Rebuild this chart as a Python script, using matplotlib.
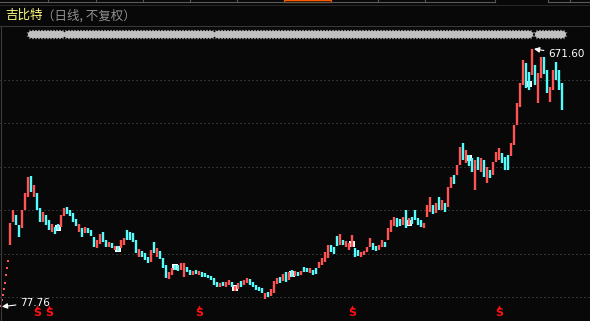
import numpy as np
import matplotlib
matplotlib.use("Agg")
import matplotlib.pyplot as plt

plt.rcParams['font.family'] = ['Noto Sans CJK SC', 'DejaVu Sans']

BG = '#080808'
UP = '#ff5454'
DOWN = '#54fcfc'

# IPO limit-up days (one-price bars, drawn as dots)
limit_up_close = [80, 92, 104, 118, 133, 150, 167, 183]

# daily bars (compressed)
highs = [270, 300, 289, 266, 300, 340, 376, 379, 358, 340,
         305, 296, 289, 277, 268, 261, 268, 289, 305, 307,
         300, 294, 280, 268, 259, 261, 259, 254, 238, 231,
         245, 250, 231, 227, 224, 217, 217, 231, 236, 254,
         250, 247, 231, 211, 206, 201, 192, 208, 227, 213,
         206, 190, 174, 158, 167, 174, 174, 178, 178, 169,
         162, 160, 162, 160, 158, 155, 151, 148, 144, 135,
         132, 135, 135, 139, 135, 125, 132, 137, 139, 144,
         141, 135, 128, 123, 121, 109, 112, 118, 137, 144,
         146, 153, 158, 158, 162, 160, 158, 160, 169, 167,
         167, 162, 167, 181, 190, 204, 220, 220, 215, 241,
         245, 231, 229, 224, 243, 213, 208, 204, 206, 215,
         236, 224, 217, 220, 231, 227, 259, 277, 284, 282,
         280, 284, 300, 282, 284, 300, 282, 277, 270, 312,
         330, 312, 317, 330, 323, 317, 353, 376, 381, 404,
         446, 455, 439, 427, 420, 416, 423, 420, 416, 400,
         393, 411, 434, 443, 432, 423, 427, 455, 496, 547,
         593, 646, 639, 618, 671.6, 635, 616, 653, 653, 623,
         584, 623, 641, 623, 593]
lows = [220, 273, 266, 238, 259, 300, 330, 342, 330, 300,
        273, 273, 266, 254, 250, 245, 254, 261, 287, 291,
        287, 273, 264, 250, 238, 247, 247, 241, 215, 213,
        222, 227, 215, 215, 213, 208, 206, 213, 220, 231,
        231, 227, 201, 192, 192, 185, 178, 181, 201, 192,
        188, 167, 144, 141, 151, 162, 160, 162, 146, 158,
        151, 151, 153, 151, 146, 146, 144, 139, 128, 123,
        123, 125, 123, 128, 123, 114, 118, 123, 128, 132,
        128, 123, 116, 114, 109, 95, 100, 102, 109, 130,
        132, 137, 135, 139, 146, 148, 148, 151, 158, 158,
        155, 151, 153, 167, 174, 181, 190, 204, 199, 218,
        220, 220, 215, 208, 215, 192, 194, 192, 197, 204,
        215, 208, 206, 208, 215, 215, 231, 250, 264, 261,
        264, 266, 259, 266, 268, 277, 266, 261, 259, 284,
        296, 291, 294, 300, 300, 296, 307, 351, 360, 381,
        404, 416, 409, 402, 388, 347, 393, 388, 376, 363,
        374, 381, 411, 416, 409, 393, 393, 425, 450, 496,
        538, 588, 582, 577, 611, 588, 547, 605, 614, 570,
        549, 577, 600, 577, 531]
trend = ("RRCCRRRCRC" "CRCCRCCRRC" "CCCRCRCCCR" "RCCRCRCRRC" "CCCRCCCRCR"
         "CCCRRCCRRC" "CRCRCCCCCC" "RCRRCRRCRR" "CCCCCRCRRR" "CRCRCRCRCC"
         "RCCRRRRCCC" "RCRRRCCRRR" "RCCRRCRRRC" "CRCRCCCCRR" "RCRCRCRRCR"
         "RCRCCRCRCR" "CRRRCCCRRR" "RRCCRCRRCC" "RRCCC")

# white period boxes (bar index, price)
box_idx = [19, 39, 58, 78, 97, 117, 136, 156, 176]
box_price = [260, 211, 168, 120, 153, 222, 270, 420, 590]

# red "S" signals (bar index)
signal_idx = [12, 16, 66, 117, 166]

# gray event strip (bar index ranges)
event_spans = [(10, 18), (19, 20), (22, 25), (26, 36), (37, 38), (39, 70),
               (72, 77), (78, 103), (104, 109), (110, 125), (126, 133),
               (134, 153), (154, 160), (161, 169), (170, 174), (175, 176),
               (179, 183), (184, 187)]

grid_levels = [100, 200, 300, 400, 500, 600]
low_label, high_label = 77.76, 671.60

W, H = 590, 321
fig = plt.figure(figsize=(W / 100, H / 100), dpi=100, facecolor=BG)
ax = fig.add_axes([0, 0, 1, 1], facecolor=BG)
ax.set_xlim(-1 / 3, (W - 1) / 3)
ax.set_ylim(100 + (297 - H) * 2.304, 100 + 297 * 2.304)
ax.axis('off')

def fx(px):
    return px / W

def fy(py):
    return 1 - py / H

for lv in grid_levels:
    ax.axhline(lv, color='#5a5a5a', lw=0.72, ls=(0, (1, 3)), zorder=1)

# candles
pos = np.arange(3, 3 + len(highs))
cols = [UP if t == 'R' else DOWN for t in trend]
ax.vlines(pos, lows, highs, colors=cols, lw=1.7, zorder=3)
lp = np.linspace(-0.1, 2.3, len(limit_up_close))
ax.scatter(lp, limit_up_close, s=1.5, color=UP, marker='s', lw=0, zorder=3)

ax.scatter(box_idx, box_price, s=20, marker='s', color='white', lw=0, zorder=2)

# event strip
ev = [i for a, b in event_spans for i in range(a, b + 1)]
ax.scatter(ev, [706] * len(ev), s=24, marker='o', color='#c0c0c0', lw=0, zorder=3)
ax.scatter(ev, [706] * len(ev), s=60, marker=(8, 1, 22.5), color='#c0c0c0', lw=0, zorder=3)

# signals
for i in signal_idx:
    ax.scatter([i], [76], s=9, marker='^', color='#ff1010', lw=0, zorder=4)
    ax.text(i, 62, 'S', color='#ff1010', fontsize=8, fontweight='bold',
            family='DejaVu Sans', ha='center', va='center', zorder=4)

# low / high labels
ax.annotate(f'{low_label:.2f}', xy=(0.3, low_label), xytext=(19 / 3, low_label + 9),
            color='white', fontsize=7.5, family='DejaVu Sans', ha='left', va='center',
            arrowprops=dict(arrowstyle='-|>', color='white', lw=0.8, mutation_scale=8,
                            shrinkA=1, shrinkB=0))
ax.annotate(f'{high_label:.2f}', xy=(533 / 3, high_label), xytext=(547 / 3, high_label - 12),
            color='white', fontsize=7.5, family='DejaVu Sans', ha='left', va='center',
            arrowprops=dict(arrowstyle='-|>', color='white', lw=0.8, mutation_scale=8,
                            shrinkA=1, shrinkB=0))

# frame pieces
fig.add_artist(plt.Line2D([fx(0.5), fx(0.5)], [fy(26), fy(H)], color='#3a3a3a', lw=0.8))
fig.add_artist(plt.Line2D([0, 1], [fy(26), fy(26)], color='#383838', lw=0.8))
fig.add_artist(plt.Line2D([0, 1], [fy(4.5), fy(4.5)], color='#262626', lw=0.8))
fig.add_artist(plt.Line2D([0, fx(495)], [fy(2), fy(2)], color='#5a5a5a', lw=0.8))
fig.add_artist(plt.Line2D([fx(548), 1], [fy(2), fy(2)], color='#5a5a5a', lw=0.8))
for sx in [48, 96, 143, 190, 237, 378, 425, 495, 548, 570]:
    fig.add_artist(plt.Line2D([fx(sx), fx(sx)], [fy(0), fy(2)], color='#5a5a5a', lw=0.8))
fig.add_artist(plt.Rectangle((fx(284), fy(2.3)), fx(47), fy(0) - fy(2.3), fill=False,
                             edgecolor='#ff5a00', lw=0.9))

fig.text(fx(5), fy(15.5), '吉比特', color='#ffff80', fontsize=9, va='center', ha='left')
fig.text(fx(42), fy(15.5), '（日线, 不复权）', color='#909090', fontsize=9, va='center', ha='left')

fig.savefig('out.png', dpi=100, facecolor=BG)
